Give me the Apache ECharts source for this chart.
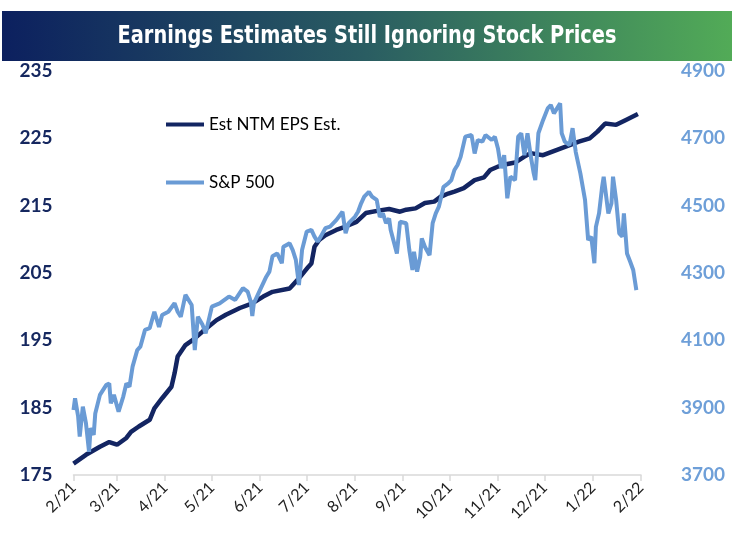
<!DOCTYPE html>
<html>
<head>
<meta charset="utf-8">
<script src="https://cdn.jsdelivr.net/npm/echarts@6/dist/echarts.min.js"></script>
<style>
html,body{margin:0;padding:0;background:#fff;}
#chart{width:734px;height:542px;}
</style>
</head>
<body>
<div id="chart"></div>
<script>
var titleText = 'Earnings Estimates Still Ignoring Stock Prices';
var xTickLabels = ['2/21','3/21','4/21','5/21','6/21','7/21','8/21','9/21','10/21','11/21','12/21','1/22','2/22'];
var seriesNames = ['Est NTM EPS Est.', 'S&P 500'];

var epsDates = ['2021-02-01','2021-02-09','2021-02-18','2021-02-24','2021-03-01','2021-03-07','2021-03-10','2021-03-15','2021-03-22','2021-03-25','2021-03-30','2021-04-05','2021-04-07','2021-04-09','2021-04-14','2021-04-19','2021-04-25','2021-05-04','2021-05-10','2021-05-19','2021-05-27','2021-06-03','2021-06-09','2021-06-20','2021-06-26','2021-07-02','2021-07-04','2021-07-06','2021-07-09','2021-07-13','2021-07-20','2021-07-26','2021-08-02','2021-08-08','2021-08-17','2021-08-23','2021-08-30','2021-09-03','2021-09-09','2021-09-15','2021-09-21','2021-09-25','2021-09-30','2021-10-04','2021-10-10','2021-10-17','2021-10-23','2021-10-27','2021-11-03','2021-11-12','2021-11-18','2021-11-22','2021-11-30','2021-12-09','2021-12-15','2021-12-23','2021-12-30','2022-01-04','2022-01-09','2022-01-16','2022-01-22','2022-01-30'];
var epsValues = [176.7,178.0,179.2,179.9,179.5,180.5,181.4,182.2,183.2,184.9,186.4,188.1,190.1,192.6,194.3,195.1,196.3,198.0,198.8,199.8,200.5,201.5,202.2,202.7,204.2,205.9,206.4,208.9,209.9,210.6,211.4,211.9,212.6,213.9,214.3,214.5,214.1,214.4,214.6,215.4,215.6,216.3,216.8,217.1,217.6,218.8,219.2,220.3,221.0,221.4,222.3,222.8,222.5,223.3,223.8,224.5,225.0,226.0,227.2,227.0,227.7,228.6];

var spxDates = ['2021-02-01','2021-02-02','2021-02-04','2021-02-05','2021-02-07','2021-02-09','2021-02-11','2021-02-12','2021-02-14','2021-02-15','2021-02-18','2021-02-22','2021-02-24','2021-02-25','2021-02-27','2021-03-02','2021-03-05','2021-03-07','2021-03-09','2021-03-11','2021-03-14','2021-03-16','2021-03-19','2021-03-22','2021-03-25','2021-03-28','2021-03-30','2021-04-03','2021-04-07','2021-04-09','2021-04-11','2021-04-14','2021-04-18','2021-04-20','2021-04-22','2021-04-25','2021-04-27','2021-05-01','2021-05-06','2021-05-12','2021-05-16','2021-05-21','2021-05-24','2021-05-26','2021-05-27','2021-05-28','2021-06-01','2021-06-05','2021-06-07','2021-06-09','2021-06-12','2021-06-15','2021-06-16','2021-06-20','2021-06-22','2021-06-24','2021-06-26','2021-06-28','2021-07-01','2021-07-04','2021-07-06','2021-07-08','2021-07-10','2021-07-13','2021-07-16','2021-07-20','2021-07-24','2021-07-26','2021-07-28','2021-08-01','2021-08-03','2021-08-05','2021-08-07','2021-08-10','2021-08-12','2021-08-15','2021-08-17','2021-08-19','2021-08-21','2021-08-23','2021-08-24','2021-08-28','2021-08-30','2021-09-03','2021-09-05','2021-09-07','2021-09-08','2021-09-10','2021-09-12','2021-09-13','2021-09-15','2021-09-18','2021-09-20','2021-09-22','2021-09-24','2021-09-27','2021-09-30','2021-10-02','2021-10-04','2021-10-06','2021-10-08','2021-10-11','2021-10-15','2021-10-17','2021-10-19','2021-10-22','2021-10-24','2021-10-28','2021-10-30','2021-11-01','2021-11-03','2021-11-05','2021-11-07','2021-11-09','2021-11-12','2021-11-14','2021-11-16','2021-11-18','2021-11-20','2021-11-22','2021-11-24','2021-11-25','2021-11-27','2021-11-30','2021-12-03','2021-12-05','2021-12-07','2021-12-11','2021-12-12','2021-12-14','2021-12-17','2021-12-19','2021-12-21','2021-12-24','2021-12-27','2021-12-29','2021-12-31','2022-01-02','2022-01-03','2022-01-05','2022-01-07','2022-01-08','2022-01-11','2022-01-13','2022-01-14','2022-01-16','2022-01-18','2022-01-20','2022-01-21','2022-01-23','2022-01-25','2022-01-27','2022-01-29'];
var spxValues = [3893,3928,3873,3814,3903,3854,3769,3839,3819,3883,3938,3967,3972,3913,3938,3888,3933,3972,3962,4022,4071,4081,4131,4136,4185,4140,4175,4185,4210,4185,4170,4235,4205,4071,4170,4146,4121,4200,4210,4230,4220,4255,4245,4215,4172,4210,4250,4289,4304,4350,4358,4329,4378,4388,4368,4339,4264,4368,4423,4428,4408,4393,4408,4433,4438,4457,4482,4418,4448,4467,4482,4507,4527,4541,4527,4517,4467,4477,4448,4462,4428,4358,4452,4448,4368,4309,4363,4304,4348,4403,4378,4353,4448,4477,4497,4556,4566,4576,4606,4621,4645,4705,4710,4655,4695,4690,4710,4695,4705,4670,4611,4650,4522,4586,4576,4705,4715,4650,4715,4650,4596,4576,4715,4754,4789,4799,4774,4804,4715,4690,4680,4730,4660,4596,4517,4398,4408,4329,4437,4477,4556,4586,4477,4507,4586,4517,4418,4408,4477,4358,4334,4309,4249];

function zip(a, b) { return a.map(function (d, i) { return [d, b[i]]; }); }

var chart = echarts.init(document.getElementById('chart'), null, {renderer: 'canvas'});
var labelFont = 'Lato, "Open Sans", sans-serif';
var option = {
  animation: false,
  backgroundColor: '#ffffff',
  graphic: [
    {
      type: 'rect', left: 2, top: 11, z: 10,
      shape: {width: 730, height: 50},
      style: {
        fill: new echarts.graphic.LinearGradient(0, 0, 1, 0, [
          {offset: 0, color: '#0c205f'},
          {offset: 0.5, color: '#2a5d62'},
          {offset: 1, color: '#52ab57'}
        ])
      }
    },
    {
      type: 'text', z: 11,
      x: 0, y: 0, originX: 367, originY: 36, scaleX: 0.86,
      style: {
        text: titleText, fill: '#ffffff',
        x: 367, y: 36, align: 'center', verticalAlign: 'middle',
        fontSize: 25, fontWeight: 'bold',
        fontFamily: '"DejaVu Sans Condensed", "DejaVu Sans", sans-serif'
      }
    }
  ],
  legend: {
    data: seriesNames,
    orient: 'vertical',
    left: 161, top: 111,
    itemWidth: 38, itemHeight: 4, itemGap: 41, itemTextGap: 5,
    icon: 'rect',
    textStyle: {color: '#000', fontSize: 17, fontFamily: labelFont}
  },
  grid: {left: 73.5, right: 93, top: 71, bottom: 67},
  xAxis: {
    type: 'time',
    min: '2021-02-01', max: '2022-02-01',
    splitNumber: 12,
    axisLine: {show: true, lineStyle: {color: '#d9d9d9', width: 1.5}},
    axisTick: {show: true, length: 6, lineStyle: {color: '#d9d9d9', width: 1.5}},
    splitLine: {show: false},
    axisLabel: {
      rotate: 45, margin: 10, fontSize: 16, color: '#222', fontFamily: labelFont,
      showMinLabel: true, showMaxLabel: true, hideOverlap: false,
      formatter: function (val) {
        var d = new Date(val);
        var idx = (d.getFullYear() - 2021) * 12 + d.getMonth() - 1;
        return xTickLabels[idx] !== undefined ? xTickLabels[idx] : '';
      }
    }
  },
  yAxis: [
    {
      type: 'value', position: 'left', min: 175, max: 235, interval: 10,
      axisLine: {show: false}, axisTick: {show: false}, splitLine: {show: false},
      axisLabel: {color: '#15275f', fontSize: 19, fontWeight: 'bold', fontFamily: labelFont, margin: 21,
        formatter: function (v) { return String(v); }}
    },
    {
      type: 'value', position: 'right', min: 3700, max: 4900, interval: 200,
      axisLine: {show: false}, axisTick: {show: false}, splitLine: {show: false},
      axisLabel: {color: '#6e9fd8', fontSize: 19, fontWeight: 'bold', fontFamily: labelFont, margin: 40,
        formatter: function (v) { return String(v); }}
    }
  ],
  series: [
    {
      name: seriesNames[0], type: 'line', yAxisIndex: 0,
      data: zip(epsDates, epsValues),
      showSymbol: false, symbol: 'none',
      lineStyle: {color: '#132562', width: 4.5},
      itemStyle: {color: '#132562'}, z: 2
    },
    {
      name: seriesNames[1], type: 'line', yAxisIndex: 1,
      data: zip(spxDates, spxValues),
      showSymbol: false, symbol: 'none',
      lineStyle: {color: '#6a9bd5', width: 4},
      itemStyle: {color: '#6a9bd5'}, z: 3
    }
  ]
};
chart.setOption(option);
</script>
</body>
</html>
